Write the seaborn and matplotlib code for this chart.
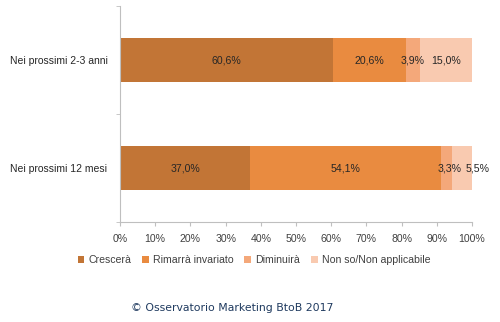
import matplotlib
matplotlib.use("Agg")
import matplotlib.pyplot as plt
import seaborn as sns
import pandas as pd
import numpy as np
from matplotlib.patches import Patch

categories = ["Nei prossimi 2-3 anni", "Nei prossimi 12 mesi"]
series = ["Crescerà", "Rimarrà invariato", "Diminuirà", "Non so/Non applicabile"]
cresce = [60.6, 37.0]
invariato = [20.6, 54.1]
diminuira = [3.9, 3.3]
nonso = [15.0, 5.5]
colors = ["#C27536", "#E98B40", "#F4A87A", "#F9CAB0"]
xticks = [0, 10, 20, 30, 40, 50, 60, 70, 80, 90, 100]

sns.set_style("white")
plt.rcParams["font.family"] = ["Liberation Sans", "DejaVu Sans"]

vals = np.array([cresce, invariato, diminuira, nonso])
cum = np.cumsum(vals, axis=0)

fig = plt.figure(figsize=(5.0, 3.22), dpi=100)
ax = fig.add_axes([0.24, 0.3106, 0.704, 0.6705])

# draw stacked bars: cumulative totals from outermost to innermost
for i in range(len(series) - 1, -1, -1):
    df = pd.DataFrame({"cat": categories, "val": cum[i]})
    sns.barplot(data=df, x="val", y="cat", orient="h", color=colors[i],
                width=0.4, ax=ax, saturation=1, linewidth=0)

# labels centered in segments (last label of second bar nudged to avoid overlap)
nudge = np.zeros_like(vals)
nudge[3, 1] = 4.5
nudge[2, 1] = 0.8
for i in range(len(series)):
    for j in range(len(categories)):
        center = cum[i, j] - vals[i, j] / 2 + nudge[i, j]
        ax.text(center, j, f"{vals[i, j]:.1f}%".replace(".", ","),
                ha="center", va="center", fontsize=7.6, color="#262626")

ax.set_xlim(0, 100)
ax.set_ylim(1.5, -0.5)
ax.set_xticks(xticks)
ax.set_xticklabels([f"{t}%" for t in xticks], fontsize=7.6, color="#404040")
ax.set_yticks([0, 1])
ax.set_yticklabels(categories, fontsize=7.5, color="#262626")
ax.set_xlabel("")
ax.set_ylabel("")
ax.tick_params(axis="y", length=0, pad=9)
ax.tick_params(axis="x", length=3, color="#BFBFBF", pad=6, direction="out", bottom=True)
# category separator ticks on y axis
ax.set_yticks([-0.5, 0.5, 1.5], minor=True)
ax.tick_params(axis="y", which="minor", length=3, color="#BFBFBF", left=True)
for s in ["top", "right"]:
    ax.spines[s].set_visible(False)
for s in ["left", "bottom"]:
    ax.spines[s].set_color("#BFBFBF")
    ax.spines[s].set_linewidth(0.8)

handles = [Patch(facecolor=c, edgecolor="none") for c in colors]
fig.legend(handles, series, loc="center", bbox_to_anchor=(0.508, 0.193), ncol=4,
           frameon=False, fontsize=7.6, handlelength=0.65, handleheight=0.65,
           handletextpad=0.4, columnspacing=1.0, labelcolor="#404040")

fig.text(0.464, 0.044, "© Osservatorio Marketing BtoB 2017", ha="center",
         va="center", fontsize=7.8, color="#1F3A5F", family="DejaVu Sans")

fig.savefig("out.png", dpi=100, facecolor="white")
